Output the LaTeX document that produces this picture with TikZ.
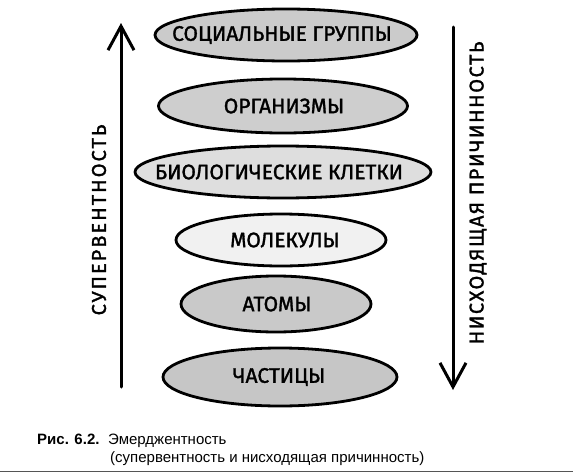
\documentclass[tikz,border=0pt]{standalone}
\usepackage{fontspec}
\setmainfont{Liberation Sans}
\newfontfamily\hand[FakeBold=1.5]{Fira Sans}
\newfontfamily\handl[FakeBold=1.5,LetterSpace=10]{Fira Sans}
\newfontfamily\handr[FakeBold=1.5,LetterSpace=7.5]{Fira Sans}
\usetikzlibrary{shapes.geometric,arrows.meta}
\definecolor{gA}{HTML}{CBCBCB}
\definecolor{gB}{HTML}{CECECE}
\definecolor{gC}{HTML}{DEDEDE}
\definecolor{gD}{HTML}{F1F1F1}
\definecolor{gE}{HTML}{C9C9C9}
\definecolor{gF}{HTML}{C6C6C6}
\definecolor{rule}{HTML}{555555}
\tikzset{
  blob/.style={ellipse, draw=black, line width=2.8pt, inner sep=0pt},
  lbl/.style={font=\hand\fontsize{21}{24}\selectfont, inner sep=0pt, text=black},
  vlbl/.style={inner sep=0pt, rotate=90},
  bigarrow/.style={line width=3pt, line cap=round, -{Straight Barb[length=24pt,width=26pt,line width=3pt]}},
  capt/.style={font=\fontsize{15}{18}\selectfont, inner sep=0pt, anchor=base west}
}
\begin{document}
\begin{tikzpicture}[x=1pt,y=-1pt]
\useasboundingbox (0,0) rectangle (573,474);
% ellipses
\node[blob, fill=gA, minimum width=262pt, minimum height=52pt] (e1) at (286,35) {};
\node[blob, fill=gB, minimum width=249pt, minimum height=54pt] (e2) at (283,106) {};
\node[blob, fill=gC, minimum width=296pt, minimum height=52pt] (e3) at (283,172) {};
\node[blob, fill=gD, minimum width=210pt, minimum height=52pt] (e4) at (281,240) {};
\node[blob, fill=gE, minimum width=190pt, minimum height=56pt] (e5) at (276,304) {};
\node[blob, fill=gF, minimum width=234pt, minimum height=58pt] (e6) at (280,377) {};
% labels
\node[lbl] (t1) at (282,35) {СОЦИАЛЬНЫЕ ГРУППЫ};
\node[lbl] (t2) at (284,106) {ОРГАНИЗМЫ};
\node[lbl] (t3) at (279,172) {БИОЛОГИЧЕСКИЕ КЛЕТКИ};
\node[lbl] (t4) at (285,240) {МОЛЕКУЛЫ};
\node[lbl] (t5) at (277,304) {АТОМЫ};
\node[lbl] (t6) at (279,377) {ЧАСТИЦЫ};
% arrows
\coordinate (lb) at (121,387);
\coordinate (lt) at (121,23);
\coordinate (rt) at (453,27);
\coordinate (rb) at (453,390);
\draw[bigarrow] (lb) -- (lt);
\draw[bigarrow] (rt) -- (rb);
\node[vlbl, font=\handl\fontsize{20}{24}\selectfont] (sup) at (99,220) {СУПЕРВЕНТНОСТЬ};
\node[vlbl, font=\handr\fontsize{20}{24}\selectfont] (down) at (478,193) {НИСХОДЯЩАЯ ПРИЧИННОСТЬ};
% caption
\node[capt] (c1) at (37,444) {\textbf{Рис. 6.2.}};
\node[capt] (c2) at (108,444) {Эмерджентность};
\node[capt] (c3) at (110,462) {(супервентность и нисходящая причинность)};
\coordinate (r1) at (0,471.5);
\coordinate (r2) at (573,471.5);
\draw[rule, line width=1.5pt] (r1) -- (r2);
\end{tikzpicture}
\end{document}
